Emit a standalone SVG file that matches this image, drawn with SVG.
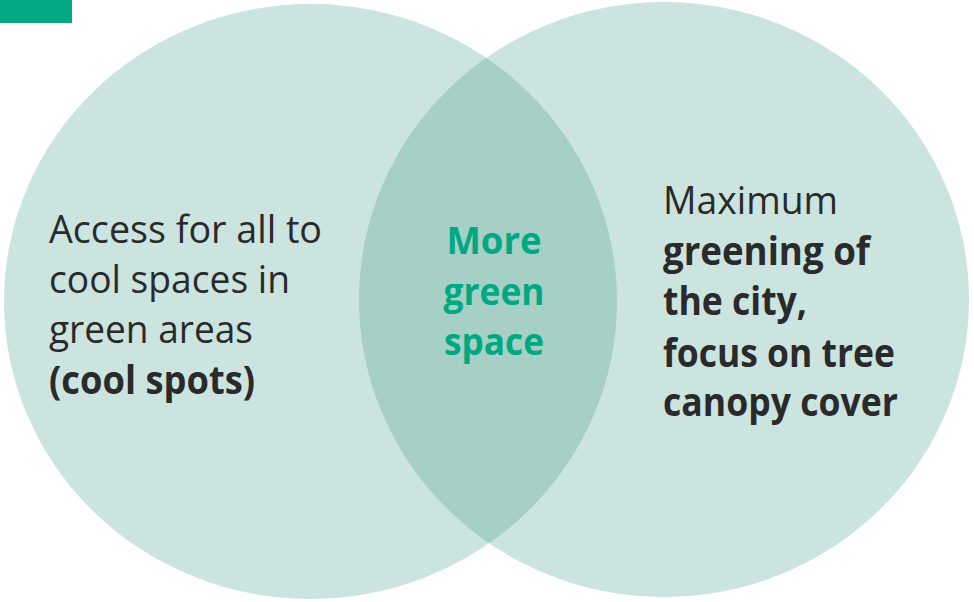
<svg xmlns="http://www.w3.org/2000/svg" width="974" height="602" viewBox="0 0 974 602">
<style>
.circ{fill:#cbe4e0}
.lens{fill:#a6cfc6}
.t{font-family:"Open Sans","DejaVu Sans",sans-serif;font-size:39px;fill:#2a2a2a}
.b{font-weight:bold}
.g{font-family:"Open Sans","DejaVu Sans",sans-serif;font-size:38px;font-weight:bold;fill:#00a882;text-anchor:middle}
</style>
<defs>
<clipPath id="clipL"><ellipse cx="310.5" cy="301.5" rx="306.5" ry="297.5"/></clipPath>
</defs>
<rect x="0" y="0" width="72" height="23" fill="#04a882"/>
<g id="left-circle">
<ellipse class="circ" cx="310.5" cy="301.5" rx="306.5" ry="297.5"/>
</g>
<g id="right-circle">
<ellipse class="circ" cx="664" cy="299.5" rx="305" ry="297.5"/>
</g>
<g id="overlap">
<ellipse class="lens" cx="664" cy="299.5" rx="305" ry="297.5" clip-path="url(#clipL)"/>
</g>
<g id="left-text">
<text class="t" x="49" y="243" textLength="273" lengthAdjust="spacingAndGlyphs">Access for all to</text>
<text class="t" x="49" y="293" textLength="241" lengthAdjust="spacingAndGlyphs">cool spaces in</text>
<text class="t" x="49" y="343" textLength="204" lengthAdjust="spacingAndGlyphs">green areas</text>
<text class="t b" x="49" y="394" textLength="206" lengthAdjust="spacingAndGlyphs">(cool spots)</text>
</g>
<g id="center-text">
<text class="g" x="494" y="254" textLength="95" lengthAdjust="spacingAndGlyphs">More</text>
<text class="g" x="494" y="305" textLength="101" lengthAdjust="spacingAndGlyphs">green</text>
<text class="g" x="494" y="355" textLength="100" lengthAdjust="spacingAndGlyphs">space</text>
</g>
<g id="right-text">
<text class="t" x="663" y="214" textLength="175" lengthAdjust="spacingAndGlyphs">Maximum</text>
<text class="t b" x="663" y="265" textLength="207" lengthAdjust="spacingAndGlyphs">greening of</text>
<text class="t b" x="663" y="315" textLength="144" lengthAdjust="spacingAndGlyphs">the city,</text>
<text class="t b" x="663" y="367" textLength="232" lengthAdjust="spacingAndGlyphs">focus on tree</text>
<text class="t b" x="663" y="416" textLength="235" lengthAdjust="spacingAndGlyphs">canopy cover</text>
</g>
<g id="connectors"/>
</svg>
